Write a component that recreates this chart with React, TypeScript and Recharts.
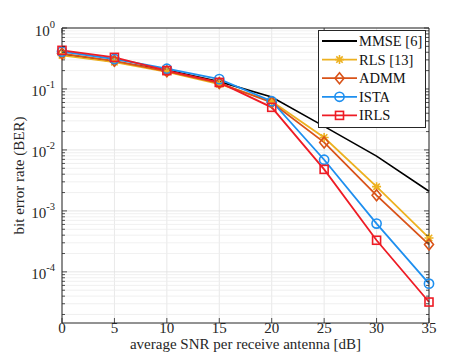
import React from 'react';
import { LineChart, Line, XAxis, YAxis, CartesianGrid, ReferenceLine } from 'recharts';

const snr = [0, 5, 10, 15, 20, 25, 30, 35];
const mmse = [0.37, 0.28, 0.205, 0.132, 0.074, 0.0243, 0.0079, 0.0021];
const rls = [0.355, 0.275, 0.19, 0.12, 0.063, 0.016, 0.0025, 0.00036];
const admm = [0.38, 0.29, 0.195, 0.125, 0.06, 0.0133, 0.0018, 0.00028];
const ista = [0.41, 0.31, 0.215, 0.145, 0.063, 0.0069, 0.00062, 0.000064];
const irls = [0.43, 0.33, 0.2, 0.128, 0.05, 0.0048, 0.00033, 0.000032];

const xTicks = [0, 5, 10, 15, 20, 25, 30, 35];
const yMajor = [1e-4, 1e-3, 1e-2, 1e-1, 1];
const yMajorExp = ['-4', '-3', '-2', '-1', '0'];
const yDomain = [1.45e-5, 1];

const yMinor: number[] = [];
for (let e = -5; e < 0; e++) {
  for (let m = 2; m <= 9; m++) {
    const v = m * Math.pow(10, e);
    if (v > yDomain[0]) yMinor.push(v);
  }
}
const yAll = [...yMinor, ...yMajor].sort((a, b) => a - b);

const series = [
  { key: 'mmse', name: 'MMSE [6]', values: mmse, color: '#000000', shape: 'none' },
  { key: 'rls', name: 'RLS [13]', values: rls, color: '#EDB120', shape: 'star' },
  { key: 'admm', name: 'ADMM', values: admm, color: '#D95319', shape: 'diamond' },
  { key: 'ista', name: 'ISTA', values: ista, color: '#1E8FEF', shape: 'circle' },
  { key: 'irls', name: 'IRLS', values: irls, color: '#EE1C25', shape: 'square' },
];

const data = snr.map((s, i) => {
  const row: any = { snr: s };
  series.forEach((sr) => { row[sr.key] = sr.values[i]; });
  return row;
});

const FONT = '"Liberation Serif", "Times New Roman", serif';
const AX = '#262626';

function marker(shape: string, cx: number, cy: number, color: string, key?: any) {
  const sw = 1.6;
  if (shape === 'circle') return <circle key={key} cx={cx} cy={cy} r={4.6} fill="none" stroke={color} strokeWidth={sw} />;
  if (shape === 'square') return <rect key={key} x={cx - 4} y={cy - 4} width={8} height={8} fill="none" stroke={color} strokeWidth={sw} />;
  if (shape === 'diamond') return <path key={key} d={`M${cx},${cy - 5.5}L${cx + 4.5},${cy}L${cx},${cy + 5.5}L${cx - 4.5},${cy}Z`} fill="none" stroke={color} strokeWidth={sw} />;
  if (shape === 'star') {
    const r = 4.5, d = 3.2;
    return <path key={key} d={`M${cx - r},${cy}L${cx + r},${cy}M${cx},${cy - r}L${cx},${cy + r}M${cx - d},${cy - d}L${cx + d},${cy + d}M${cx - d},${cy + d}L${cx + d},${cy - d}`} stroke={color} strokeWidth={sw} fill="none" />;
  }
  return <g key={key} />;
}

const LeftTick = (props: any) => {
  const { x, y, payload } = props;
  const v = payload.value;
  const mi = yMajor.findIndex((m) => Math.abs(Math.log10(m) - Math.log10(v)) < 1e-6);
  const major = mi >= 0;
  return (
    <g>
      <line x1={x} x2={x + (major ? 5 : 3)} y1={y} y2={y} stroke={AX} strokeWidth={0.8} />
      {major && (
        <text x={x - 7} y={y} textAnchor="end" fontFamily={FONT} fontSize={15} fill={AX}>
          <tspan dy="0.5em">10</tspan>
          <tspan dy={-8} fontSize={10.5}>{yMajorExp[mi]}</tspan>
        </text>
      )}
    </g>
  );
};

const RightTick = (props: any) => {
  const { x, y, payload } = props;
  const v = payload.value;
  const major = yMajor.some((m) => Math.abs(Math.log10(m) - Math.log10(v)) < 1e-6);
  return <line x1={x} x2={x - (major ? 5 : 3)} y1={y} y2={y} stroke={AX} strokeWidth={0.8} />;
};

const BottomTick = (props: any) => {
  const { x, y, payload } = props;
  return (
    <g>
      <line x1={x} x2={x} y1={y} y2={y - 5} stroke={AX} strokeWidth={0.8} />
      <text x={x} y={y} dy={10} textAnchor="middle" fontFamily={FONT} fontSize={15} fill={AX}>{payload.value}</text>
    </g>
  );
};

const TopTick = (props: any) => {
  const { x, y } = props;
  return <line x1={x} x2={x} y1={y} y2={y + 5} stroke={AX} strokeWidth={0.8} />;
};

const LegendBox = () => (
  <svg width={108} height={98} style={{ display: 'block' }}>
    <rect x={0.5} y={0.5} width={107} height={97} fill="#ffffff" stroke={AX} strokeWidth={1} />
    {series.map((s, i) => {
      const cy = 11 + i * 18.6;
      return (
        <g key={s.key}>
          <line x1={4} x2={39} y1={cy} y2={cy} stroke={s.color} strokeWidth={1.8} />
          {marker(s.shape, 21.5, cy, s.color)}
          <text x={41} y={cy} dy="0.34em" fontFamily={FONT} fontSize={14.5} fill="#111">{s.name}</text>
        </g>
      );
    })}
  </svg>
);

const makeDot = (shape: string, color: string) => (p: any) => {
  const { cx, cy, index } = p;
  if (cx == null || cy == null) return <g key={index} />;
  return marker(shape, cx, cy, color, index);
};

export default function App() {
  return (
    <div style={{ position: 'absolute', left: 0, top: 0, width: 474, height: 355, background: '#fff' }}>
      <LineChart width={474} height={355} data={data} margin={{ top: 27, right: 0, left: 0, bottom: 0 }}>
        <CartesianGrid horizontal={false} stroke="#e2e2e2" strokeWidth={0.8} />
        {yMinor.map((v) => (
          <ReferenceLine key={'mn' + v} y={v} stroke="#ececec" strokeWidth={0.8} />
        ))}
        {yMajor.map((v) => (
          <ReferenceLine key={'mj' + v} y={v} stroke="#dedede" strokeWidth={0.8} />
        ))}
        <XAxis
          dataKey="snr"
          type="number"
          domain={[0, 35]}
          ticks={xTicks}
          height={32}
          tickSize={0}
          tickMargin={0}
          tickLine={false}
          axisLine={{ stroke: AX, strokeWidth: 1 }}
          tick={<BottomTick />}
          interval={0}
          label={{
            content: (p: any) => {
              const vb = p.viewBox;
              return (
                <text x={vb.x + vb.width / 2} y={vb.y + 26} textAnchor="middle" fontFamily={FONT} fontSize={15} fill={AX}>
                  average SNR per receive antenna [dB]
                </text>
              );
            },
          }}
        />
        <XAxis
          xAxisId="top"
          orientation="top"
          type="number"
          domain={[0, 35]}
          ticks={xTicks}
          height={1}
          tickSize={0}
          tickMargin={0}
          tickLine={false}
          axisLine={{ stroke: AX, strokeWidth: 1 }}
          tick={<TopTick />}
          interval={0}
        />
        <YAxis
          type="number"
          scale="log"
          domain={yDomain}
          allowDataOverflow
          ticks={yAll}
          width={62}
          tickSize={0}
          tickMargin={0}
          tickLine={false}
          axisLine={{ stroke: AX, strokeWidth: 1 }}
          tick={<LeftTick />}
          interval={0}
          label={{
            content: (p: any) => {
              const vb = p.viewBox;
              const cx = vb.x + 21;
              const cy = vb.y + vb.height / 2;
              return (
                <text x={cx} y={cy} transform={`rotate(-90 ${cx} ${cy})`} textAnchor="middle" dominantBaseline="middle" fontFamily={FONT} fontSize={15} fill={AX}>
                  bit error rate (BER)
                </text>
              );
            },
          }}
        />
        <YAxis
          yAxisId="r"
          orientation="right"
          type="number"
          scale="log"
          domain={yDomain}
          allowDataOverflow
          ticks={yAll}
          width={45}
          tickSize={0}
          tickMargin={0}
          tickLine={false}
          axisLine={{ stroke: AX, strokeWidth: 1 }}
          tick={<RightTick />}
          interval={0}
        />
        {series.map((s) => (
          <Line
            key={s.key}
            dataKey={s.key}
            name={s.name}
            stroke={s.color}
            strokeWidth={s.key === 'mmse' ? 1.6 : 1.8}
            dot={s.shape === 'none' ? false : makeDot(s.shape, s.color)}
            activeDot={false}
            isAnimationActive={false}
          />
        ))}
      </LineChart>
      <div style={{ position: 'absolute', left: 318, top: 30 }}>
        <LegendBox />
      </div>
    </div>
  );
}
